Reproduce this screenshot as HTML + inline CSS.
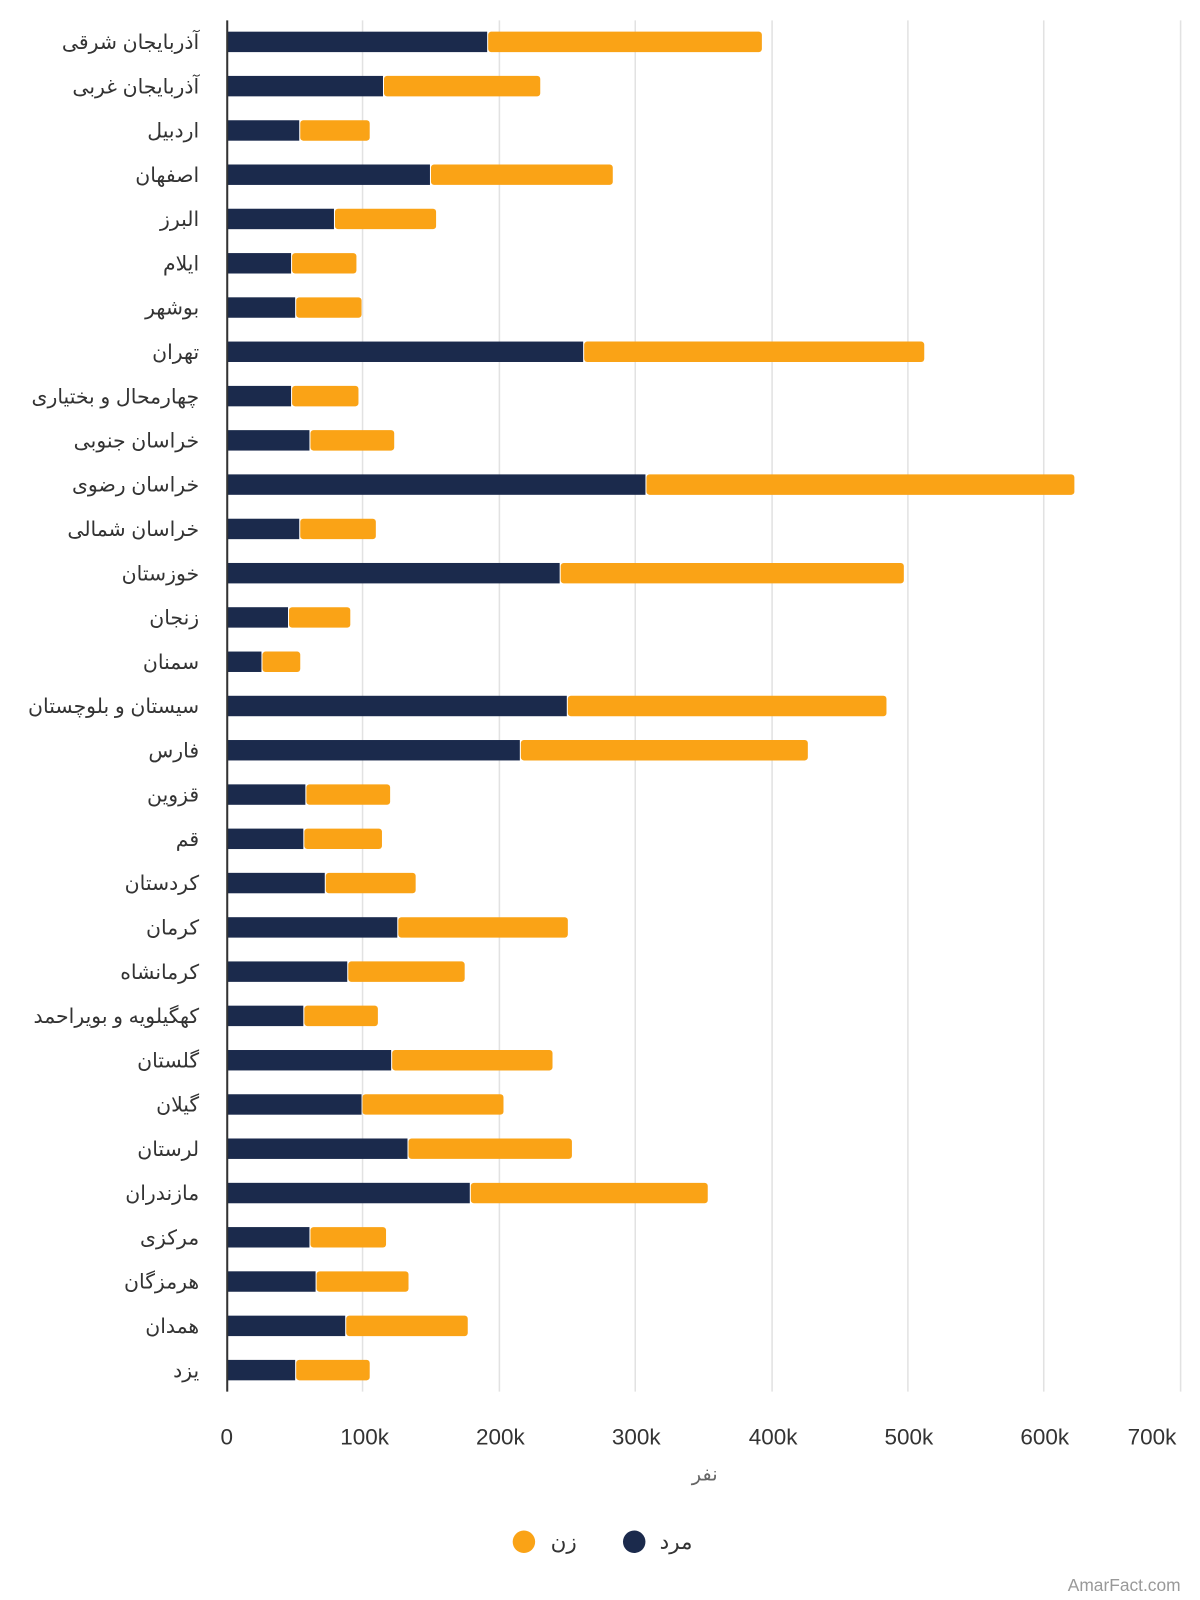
<!DOCTYPE html>
<html><head><meta charset="utf-8"><style>
html,body{margin:0;padding:0;background:#fff;width:1200px;height:1600px;overflow:hidden}
svg{display:block}
text{font-family:"Liberation Sans","DejaVu Sans",sans-serif}
.l{font-size:20px;fill:#333;text-anchor:end}
.t{font-size:22px;fill:#333;text-anchor:middle}
.m{fill:#1b2a4c}.f{fill:#faa316}
</style></head><body>
<svg width="1200" height="1600" viewBox="0 0 1175 1566" preserveAspectRatio="none" xmlns="http://www.w3.org/2000/svg">
<g stroke="#e2e2e2" stroke-width="1.5">
<line x1="355" y1="20" x2="355" y2="1362"/><line x1="489" y1="20" x2="489" y2="1362"/><line x1="622" y1="20" x2="622" y2="1362"/><line x1="756" y1="20" x2="756" y2="1362"/><line x1="889" y1="20" x2="889" y2="1362"/><line x1="1022" y1="20" x2="1022" y2="1362"/><line x1="1156" y1="20" x2="1156" y2="1362"/>
</g>
<g>
<rect class="f" x="478" y="31" width="268" height="20" rx="3"/><rect class="m" x="222" y="31" width="255" height="20"/>
<rect class="f" x="376" y="74.3" width="153" height="20" rx="3"/><rect class="m" x="222" y="74.3" width="153" height="20"/>
<rect class="f" x="294" y="117.7" width="68" height="20" rx="3"/><rect class="m" x="222" y="117.7" width="71" height="20"/>
<rect class="f" x="422" y="161" width="178" height="20" rx="3"/><rect class="m" x="222" y="161" width="199" height="20"/>
<rect class="f" x="328" y="204.3" width="99" height="20" rx="3"/><rect class="m" x="222" y="204.3" width="105" height="20"/>
<rect class="f" x="286" y="247.7" width="63" height="20" rx="3"/><rect class="m" x="222" y="247.7" width="63" height="20"/>
<rect class="f" x="290" y="291" width="64" height="20" rx="3"/><rect class="m" x="222" y="291" width="67" height="20"/>
<rect class="f" x="572" y="334.3" width="333" height="20" rx="3"/><rect class="m" x="222" y="334.3" width="349" height="20"/>
<rect class="f" x="286" y="377.7" width="65" height="20" rx="3"/><rect class="m" x="222" y="377.7" width="63" height="20"/>
<rect class="f" x="304" y="421" width="82" height="20" rx="3"/><rect class="m" x="222" y="421" width="81" height="20"/>
<rect class="f" x="633" y="464.3" width="419" height="20" rx="3"/><rect class="m" x="222" y="464.3" width="410" height="20"/>
<rect class="f" x="294" y="507.7" width="74" height="20" rx="3"/><rect class="m" x="222" y="507.7" width="71" height="20"/>
<rect class="f" x="549" y="551" width="336" height="20" rx="3"/><rect class="m" x="222" y="551" width="326" height="20"/>
<rect class="f" x="283" y="594.3" width="60" height="20" rx="3"/><rect class="m" x="222" y="594.3" width="60" height="20"/>
<rect class="f" x="257" y="637.7" width="37" height="20" rx="3"/><rect class="m" x="222" y="637.7" width="34" height="20"/>
<rect class="f" x="556" y="681" width="312" height="20" rx="3"/><rect class="m" x="222" y="681" width="333" height="20"/>
<rect class="f" x="510" y="724.3" width="281" height="20" rx="3"/><rect class="m" x="222" y="724.3" width="287" height="20"/>
<rect class="f" x="300" y="767.7" width="82" height="20" rx="3"/><rect class="m" x="222" y="767.7" width="77" height="20"/>
<rect class="f" x="298" y="811" width="76" height="20" rx="3"/><rect class="m" x="222" y="811" width="75" height="20"/>
<rect class="f" x="319" y="854.3" width="88" height="20" rx="3"/><rect class="m" x="222" y="854.3" width="96" height="20"/>
<rect class="f" x="390" y="897.7" width="166" height="20" rx="3"/><rect class="m" x="222" y="897.7" width="167" height="20"/>
<rect class="f" x="341" y="941" width="114" height="20" rx="3"/><rect class="m" x="222" y="941" width="118" height="20"/>
<rect class="f" x="298" y="984.3" width="72" height="20" rx="3"/><rect class="m" x="222" y="984.3" width="75" height="20"/>
<rect class="f" x="384" y="1027.7" width="157" height="20" rx="3"/><rect class="m" x="222" y="1027.7" width="161" height="20"/>
<rect class="f" x="355" y="1071" width="138" height="20" rx="3"/><rect class="m" x="222" y="1071" width="132" height="20"/>
<rect class="f" x="400" y="1114.3" width="160" height="20" rx="3"/><rect class="m" x="222" y="1114.3" width="177" height="20"/>
<rect class="f" x="461" y="1157.7" width="232" height="20" rx="3"/><rect class="m" x="222" y="1157.7" width="238" height="20"/>
<rect class="f" x="304" y="1201" width="74" height="20" rx="3"/><rect class="m" x="222" y="1201" width="81" height="20"/>
<rect class="f" x="310" y="1244.3" width="90" height="20" rx="3"/><rect class="m" x="222" y="1244.3" width="87" height="20"/>
<rect class="f" x="339" y="1287.7" width="119" height="20" rx="3"/><rect class="m" x="222" y="1287.7" width="116" height="20"/>
<rect class="f" x="290" y="1331" width="72" height="20" rx="3"/><rect class="m" x="222" y="1331" width="67" height="20"/>
</g>
<line x1="222.5" y1="20" x2="222.5" y2="1362" stroke="#333" stroke-width="2"/>
<g>
<text class="l" x="195" y="48">آذربایجان شرقی</text>
<text class="l" x="195" y="91.3">آذربایجان غربی</text>
<text class="l" x="195" y="134.7">اردبیل</text>
<text class="l" x="195" y="178">اصفهان</text>
<text class="l" x="195" y="221.3">البرز</text>
<text class="l" x="195" y="264.7">ایلام</text>
<text class="l" x="195" y="308">بوشهر</text>
<text class="l" x="195" y="351.3">تهران</text>
<text class="l" x="195" y="394.7">چهارمحال و بختیاری</text>
<text class="l" x="195" y="438">خراسان جنوبی</text>
<text class="l" x="195" y="481.3">خراسان رضوی</text>
<text class="l" x="195" y="524.7">خراسان شمالی</text>
<text class="l" x="195" y="568">خوزستان</text>
<text class="l" x="195" y="611.3">زنجان</text>
<text class="l" x="195" y="654.7">سمنان</text>
<text class="l" x="195" y="698">سیستان و بلوچستان</text>
<text class="l" x="195" y="741.3">فارس</text>
<text class="l" x="195" y="784.7">قزوین</text>
<text class="l" x="195" y="828">قم</text>
<text class="l" x="195" y="871.3">کردستان</text>
<text class="l" x="195" y="914.7">کرمان</text>
<text class="l" x="195" y="958">کرمانشاه</text>
<text class="l" x="195" y="1001.3">کهگیلویه و بویراحمد</text>
<text class="l" x="195" y="1044.7">گلستان</text>
<text class="l" x="195" y="1088">گیلان</text>
<text class="l" x="195" y="1131.3">لرستان</text>
<text class="l" x="195" y="1174.7">مازندران</text>
<text class="l" x="195" y="1218">مرکزی</text>
<text class="l" x="195" y="1261.3">هرمزگان</text>
<text class="l" x="195" y="1304.7">همدان</text>
<text class="l" x="195" y="1348">یزد</text>
</g>
<g>
<text class="t" x="222" y="1414">0</text>
<text class="t" x="357" y="1414">100k</text>
<text class="t" x="490" y="1414">200k</text>
<text class="t" x="623" y="1414">300k</text>
<text class="t" x="757" y="1414">400k</text>
<text class="t" x="890" y="1414">500k</text>
<text class="t" x="1023" y="1414">600k</text>
<text class="t" x="1128" y="1414">700k</text>
</g>
<text x="690" y="1449" style="font-size:19px;fill:#666;text-anchor:middle">نفر</text>
<circle cx="513" cy="1509" r="11" class="f"/>
<text x="552" y="1516" style="font-size:21px;fill:#333;text-anchor:middle">زن</text>
<circle cx="621" cy="1509" r="11" class="m"/>
<text x="662" y="1516" style="font-size:21px;fill:#333;text-anchor:middle">مرد</text>
<text x="1156" y="1557" style="font-size:17px;fill:#999;text-anchor:end">AmarFact.com</text>
</svg>
</body></html>
